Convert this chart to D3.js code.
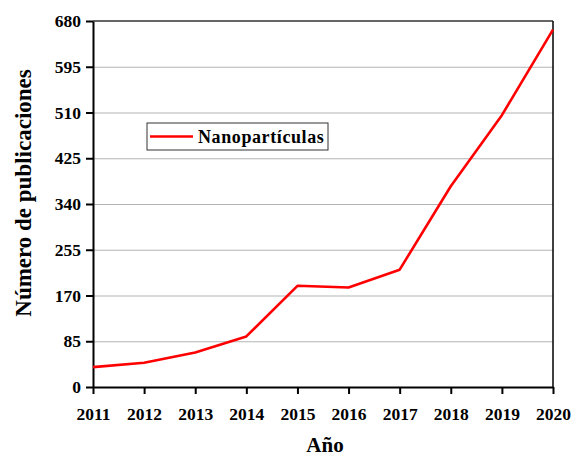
<!DOCTYPE html>
<html>
<head>
<meta charset="utf-8">
<script src="https://cdn.jsdelivr.net/npm/d3@7"></script>
<style>
  body { margin: 0; background: #fff; }
  text { font-family: "Liberation Serif", "Times New Roman", serif; font-weight: bold; fill: #000; }
  .grid line { stroke: #b4b4b4; stroke-width: 1.2; }
  .grid path { display: none; }
</style>
</head>
<body>
<div id="container"></div>
<script>
const years = [2011, 2012, 2013, 2014, 2015, 2016, 2017, 2018, 2019, 2020];
const publicaciones = [37, 45, 64, 94, 188, 185, 218, 373, 505, 664];
const yTicks = [0, 85, 170, 255, 340, 425, 510, 595, 680];
const seriesName = "Nanopartículas";

const W = 576, H = 458;
const margin = { left: 93, right: 23, top: 21, bottom: 71 };
const width = W - margin.left - margin.right;
const height = H - margin.top - margin.bottom;

const svg = d3.select('#container').append('svg')
    .attr('width', W)
    .attr('height', H);

const chart = svg.append('g')
    .attr('transform', `translate(${margin.left}, ${margin.top})`);

const xScale = d3.scaleLinear()
    .domain([2011, 2020])
    .range([0, width]);

const yScale = d3.scaleLinear()
    .domain([0, 680])
    .range([height, 0]);

// gridlines
chart.append('g')
    .attr('class', 'grid')
    .call(d3.axisLeft(yScale)
        .tickValues(yTicks.slice(1, -1))
        .tickSize(-width)
        .tickFormat(''));

// frame top/right
chart.append('line')
    .attr('x1', 0).attr('x2', width)
    .attr('y1', 0).attr('y2', 0)
    .attr('stroke', '#333').attr('stroke-width', 1.5);
chart.append('line')
    .attr('x1', width).attr('x2', width)
    .attr('y1', 0).attr('y2', height)
    .attr('stroke', '#000').attr('stroke-width', 1.5);

// axes
const xAxis = chart.append('g')
    .attr('transform', `translate(0, ${height})`)
    .call(d3.axisBottom(xScale)
        .tickValues(years)
        .tickFormat(d3.format('d'))
        .tickSize(7)
        .tickSizeOuter(0)
        .tickPadding(14));

const yAxis = chart.append('g')
    .call(d3.axisLeft(yScale)
        .tickValues(yTicks)
        .tickSize(7)
        .tickSizeOuter(0)
        .tickPadding(5));

[xAxis, yAxis].forEach(ax => {
    ax.select('.domain').attr('stroke', '#000').attr('stroke-width', 2);
    ax.selectAll('.tick line').attr('stroke', '#000').attr('stroke-width', 2);
    ax.selectAll('.tick text')
        .style('font-size', '17.5px')
        .attr('fill', '#000');
});

// data line
const line = d3.line()
    .x((d, i) => xScale(years[i]))
    .y(d => yScale(d));

chart.append('path')
    .datum(publicaciones)
    .attr('fill', 'none')
    .attr('stroke', '#ff0000')
    .attr('stroke-width', 2.6)
    .attr('stroke-linejoin', 'round')
    .attr('d', line);

// legend
const legend = svg.append('g')
    .attr('transform', 'translate(147, 123)');

legend.append('rect')
    .attr('width', 181)
    .attr('height', 27)
    .attr('fill', '#fff')
    .attr('stroke', '#333')
    .attr('stroke-width', 1);

legend.append('line')
    .attr('x1', 3).attr('x2', 46)
    .attr('y1', 13.5).attr('y2', 13.5)
    .attr('stroke', '#ff0000')
    .attr('stroke-width', 2.6);

legend.append('text')
    .attr('x', 51)
    .attr('y', 19.5)
    .style('font-size', '18px')
    .style('letter-spacing', '0.6px')
    .text(seriesName);

// axis titles
svg.append('text')
    .attr('transform', 'rotate(-90)')
    .attr('x', -193)
    .attr('y', 31)
    .attr('text-anchor', 'middle')
    .style('font-size', '23px')
    .text('Número de publicaciones');

svg.append('text')
    .attr('x', 325)
    .attr('y', 452)
    .attr('text-anchor', 'middle')
    .style('font-size', '21px')
    .text('Año');
</script>
</body>
</html>
